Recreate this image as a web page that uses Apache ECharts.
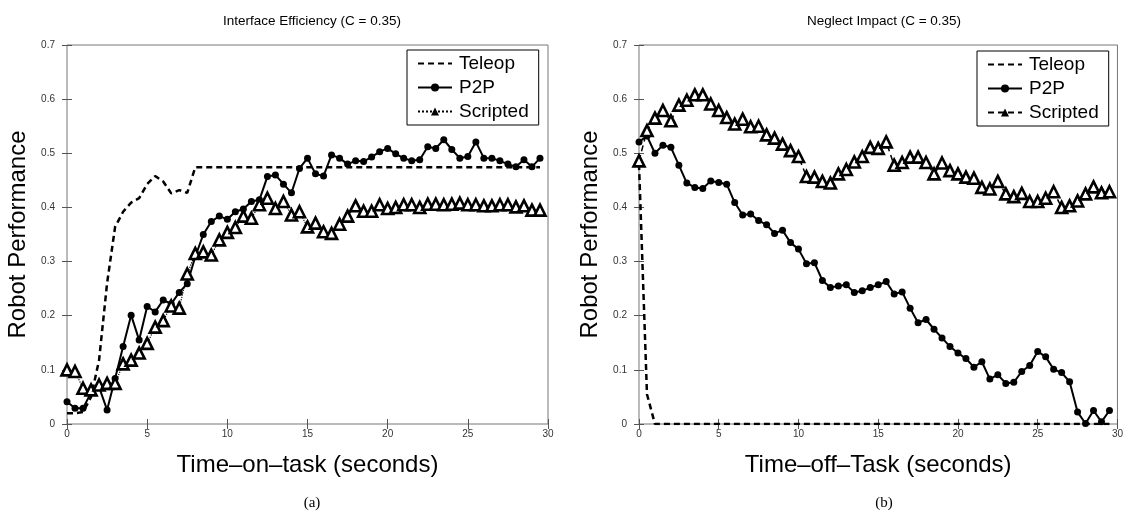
<!DOCTYPE html>
<html>
<head>
<meta charset="utf-8">
<script src="https://cdn.jsdelivr.net/npm/echarts@6/dist/echarts.min.js"></script>
<style>
html,body{margin:0;padding:0;background:#fff;}
#chart{width:1126px;height:513px;}
</style>
</head>
<body>
<div id="chart"></div>
<script>
// time samples (seconds), every half second
const times = [0,0.5,1,1.5,2,2.5,3,3.5,4,4.5,5,5.5,6,6.5,7,7.5,8,8.5,9,9.5,
  10,10.5,11,11.5,12,12.5,13,13.5,14,14.5,15,15.5,16,16.5,17,17.5,18,18.5,19,19.5,
  20,20.5,21,21.5,22,22.5,23,23.5,24,24.5,25,25.5,26,26.5,27,27.5,28,28.5,29,29.5];

// (a) Interface Efficiency
const effTeleop = [0.02,0.02,0.022,0.05,0.118,0.26,0.364,0.392,0.409,0.417,0.443,0.458,0.448,0.426,0.432,0.427,
  0.474,0.474,0.474,0.474,0.474,0.474,0.474,0.474,0.474,0.474,0.474,0.474,0.474,0.474,0.474,0.474,0.474,0.474,
  0.474,0.474,0.474,0.474,0.474,0.474,0.474,0.474,0.474,0.474,0.474,0.474,0.474,0.474,0.474,0.474,0.474,0.474,
  0.474,0.474,0.474,0.474,0.474,0.474,0.474,0.474];
const effP2P = [0.041,0.029,0.029,0.058,0.068,0.026,0.084,0.143,0.201,0.155,0.217,0.207,0.229,0.222,0.243,0.259,
  0.309,0.35,0.374,0.384,0.378,0.392,0.397,0.411,0.414,0.457,0.46,0.443,0.427,0.472,0.491,0.462,0.458,0.497,
  0.491,0.48,0.486,0.485,0.493,0.503,0.509,0.499,0.491,0.486,0.488,0.512,0.509,0.525,0.507,0.491,0.494,0.521,
  0.491,0.491,0.486,0.48,0.475,0.488,0.475,0.491];
const effScripted = [0.1,0.097,0.066,0.063,0.072,0.075,0.075,0.111,0.118,0.131,0.149,0.179,0.191,0.218,0.214,0.277,
  0.315,0.318,0.312,0.34,0.354,0.363,0.384,0.38,0.405,0.417,0.398,0.411,0.386,0.392,0.364,0.371,0.355,0.352,
  0.369,0.384,0.403,0.393,0.393,0.405,0.398,0.4,0.405,0.405,0.4,0.406,0.406,0.405,0.406,0.408,0.405,0.405,
  0.403,0.403,0.405,0.405,0.401,0.403,0.395,0.395];

// (b) Neglect Impact
const negTeleop = [0.48,0.055,0,0,0,0,0,0,0,0,0,0,0,0,0,0,0,0,0,0,0,0,0,0,0,0,0,0,0,0,
  0,0,0,0,0,0,0,0,0,0,0,0,0,0,0,0,0,0,0,0,0,0,0,0,0,0,0,0,0,0];
const negP2P = [0.521,0.532,0.5,0.515,0.511,0.478,0.445,0.437,0.435,0.449,0.446,0.443,0.409,0.386,0.388,0.376,
  0.368,0.352,0.358,0.335,0.323,0.296,0.298,0.265,0.252,0.255,0.257,0.243,0.246,0.252,0.257,0.263,0.24,0.244,
  0.214,0.187,0.193,0.175,0.159,0.143,0.131,0.121,0.105,0.115,0.083,0.091,0.075,0.077,0.097,0.108,0.134,0.124,
  0.101,0.095,0.078,0.022,0.001,0.025,0.004,0.025];
const negScripted = [0.486,0.542,0.565,0.579,0.56,0.589,0.598,0.608,0.608,0.591,0.579,0.566,0.554,0.563,0.549,0.55,
  0.534,0.528,0.517,0.505,0.494,0.457,0.456,0.448,0.445,0.462,0.47,0.484,0.494,0.511,0.509,0.521,0.478,0.483,
  0.493,0.493,0.483,0.462,0.482,0.468,0.462,0.456,0.454,0.437,0.434,0.448,0.425,0.42,0.426,0.411,0.411,0.417,
  0.429,0.4,0.403,0.412,0.425,0.438,0.427,0.429];

const xTicks = [0,5,10,15,20,25,30];
const yTicks = [0,0.1,0.2,0.3,0.4,0.5,0.6,0.7];

const titles = ['Interface Efficiency (C = 0.35)', 'Neglect Impact (C = 0.35)'];
const xNames = ['Time\u2013on\u2013task (seconds)', 'Time\u2013off\u2013Task (seconds)'];
const yName = 'Robot Performance';
const captions = ['(a)', '(b)'];
const legendNames = [['Teleop', 'P2P', 'Scripted'], ['Teleop ', 'P2P ', 'Scripted ']];

const pair = vals => vals.map((v, i) => [times[i], v]);

const FONT = 'Liberation Sans, Arial, Helvetica, sans-serif';
const grids = [
  {left: 67, top: 45, width: 481, height: 379, show: true, borderColor: '#777', borderWidth: 1},
  {left: 639, top: 45, width: 480, height: 379, show: true, borderColor: '#777', borderWidth: 1}
];

const xAxes = [], yAxes = [];
[0, 1].forEach(g => {
  xAxes.push({
    type: 'value', gridIndex: g, min: xTicks[0], max: xTicks[xTicks.length-1], interval: 5,
    axisLine: {show: false}, splitLine: {show: false},
    axisTick: {show: true, inside: true, length: 5, lineStyle: {color: '#555'}},
    axisLabel: {fontSize: 10, color: '#333', fontFamily: FONT, margin: 5},
    name: xNames[g], nameLocation: 'middle', nameGap: 29,
    nameTextStyle: {fontSize: 24, color: '#000', fontFamily: FONT}
  });
  xAxes.push({
    type: 'value', gridIndex: g, position: 'top', min: 0, max: 30, interval: 5,
    axisLine: {show: false}, splitLine: {show: false}, axisLabel: {show: false},
    axisTick: {show: true, inside: true, length: 5, lineStyle: {color: '#555'}}
  });
  yAxes.push({
    type: 'value', gridIndex: g, min: yTicks[0], max: yTicks[yTicks.length-1], interval: 0.1,
    axisLine: {show: false}, splitLine: {show: false},
    axisTick: {show: true, inside: true, length: 5, lineStyle: {color: '#555'}},
    axisLabel: {fontSize: 10, color: '#333', fontFamily: FONT, margin: 12,
      formatter: v => (Math.round(v * 10) / 10).toString()},
    name: yName, nameLocation: 'middle', nameGap: 37,
    nameTextStyle: {fontSize: 24, color: '#000', fontFamily: FONT}
  });
  yAxes.push({
    type: 'value', gridIndex: g, position: 'right', min: 0, max: 0.7, interval: 0.1,
    axisLine: {show: false}, splitLine: {show: false}, axisLabel: {show: false},
    axisTick: {show: true, inside: true, length: 5, lineStyle: {color: '#555'}}
  });
});

const teleopStyle = {type: [6, 4], width: 2.5, color: '#000'};
const p2pStyle = {type: 'solid', width: 2, color: '#000'};
const triItem = {color: '#fff', borderColor: '#000', borderWidth: 2.6};

const series = [
  {name: legendNames[0][0], type: 'line', xAxisIndex: 0, yAxisIndex: 0, data: pair(effTeleop),
   showSymbol: false, symbol: 'none', lineStyle: teleopStyle, itemStyle: {color: '#000'}, z: 2},
  {name: legendNames[0][1], type: 'line', xAxisIndex: 0, yAxisIndex: 0, data: pair(effP2P),
   symbol: 'circle', symbolSize: 7, lineStyle: p2pStyle, itemStyle: {color: '#000'}, z: 3},
  {name: legendNames[0][2], type: 'line', xAxisIndex: 0, yAxisIndex: 0, data: pair(effScripted),
   symbol: 'triangle', symbolSize: 11, lineStyle: {type: 'dotted', width: 1.2, color: '#000'},
   itemStyle: triItem, z: 4},
  {name: legendNames[1][0], type: 'line', xAxisIndex: 2, yAxisIndex: 2, data: pair(negTeleop),
   showSymbol: false, symbol: 'none', lineStyle: teleopStyle, itemStyle: {color: '#000'}, z: 2},
  {name: legendNames[1][1], type: 'line', xAxisIndex: 2, yAxisIndex: 2, data: pair(negP2P),
   symbol: 'circle', symbolSize: 7, lineStyle: p2pStyle, itemStyle: {color: '#000'}, z: 3},
  {name: legendNames[1][2], type: 'line', xAxisIndex: 2, yAxisIndex: 2, data: pair(negScripted),
   symbol: 'triangle', symbolSize: 11, lineStyle: {type: [6, 4], width: 1.5, color: '#000'},
   itemStyle: triItem, z: 4}
];

const legendBase = {
  orient: 'vertical', itemWidth: 34, itemHeight: 10, itemGap: 5,
  backgroundColor: '#fff', borderColor: '#000', borderWidth: 1, padding: [4, 10, 4, 10],
  textStyle: {fontSize: 19, color: '#000', fontFamily: FONT, padding: [0, 0, 0, 2]},
  formatter: n => n.trim(), selectedMode: false
};
const legendData = names => [
  {name: names[0], itemStyle: {opacity: 0}},
  {name: names[1], itemStyle: {color: '#000'}},
  {name: names[2], itemStyle: {color: '#000', borderWidth: 0}}
];

const option = {
  animation: false,
  backgroundColor: '#fff',
  title: [
    {text: titles[0], left: 307, top: 9, textAlign: 'center',
     textStyle: {fontSize: 13.5, fontWeight: 'normal', color: '#000', fontFamily: FONT}},
    {text: titles[1], left: 879, top: 9, textAlign: 'center',
     textStyle: {fontSize: 13.5, fontWeight: 'normal', color: '#000', fontFamily: FONT}},
    {text: captions[0], left: 307, top: 491, textAlign: 'center',
     textStyle: {fontSize: 15, fontWeight: 'normal', color: '#000', fontFamily: 'Liberation Serif, Times New Roman, serif'}},
    {text: captions[1], left: 879, top: 491, textAlign: 'center',
     textStyle: {fontSize: 15, fontWeight: 'normal', color: '#000', fontFamily: 'Liberation Serif, Times New Roman, serif'}}
  ],
  legend: [
    Object.assign({}, legendBase, {left: 407, top: 50, data: legendData(legendNames[0])}),
    Object.assign({}, legendBase, {left: 977, top: 51, data: legendData(legendNames[1])})
  ],
  grid: grids,
  xAxis: xAxes,
  yAxis: yAxes,
  series: series
};

const chart = echarts.init(document.getElementById('chart'), null, {renderer: 'canvas'});
chart.setOption(option);
</script>
</body>
</html>
